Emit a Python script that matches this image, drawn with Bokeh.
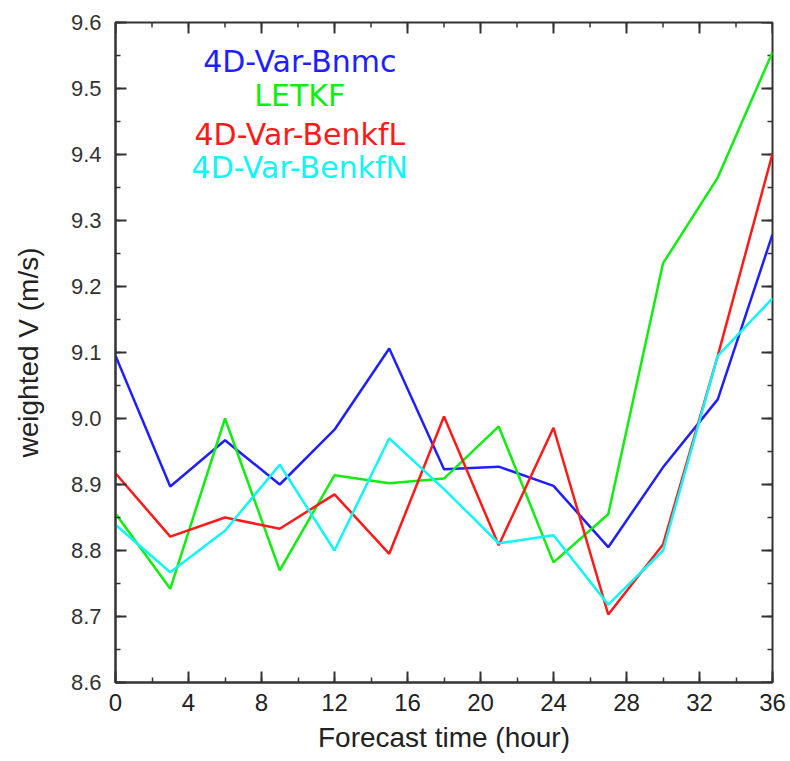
from bokeh.plotting import figure
from bokeh.models import Range1d, FixedTicker, NumeralTickFormatter, Label
from bokeh.embed import file_html
from bokeh.resources import INLINE

hours = [0, 3, 6, 9, 12, 15, 18, 21, 24, 27, 30, 33, 36]
bnmc = [9.095, 8.897, 8.967, 8.900, 8.983, 9.106, 8.923, 8.927, 8.898, 8.805, 8.926, 9.029, 9.279]
letkf = [8.856, 8.742, 9.000, 8.770, 8.914, 8.902, 8.909, 8.988, 8.782, 8.855, 9.235, 9.365, 9.555]
benkfl = [8.917, 8.821, 8.850, 8.833, 8.885, 8.795, 9.003, 8.808, 8.986, 8.703, 8.809, 9.095, 9.401]
benkfn = [8.839, 8.767, 8.830, 8.930, 8.800, 8.970, 8.893, 8.811, 8.823, 8.718, 8.800, 9.095, 9.182]

names = ["4D-Var-Bnmc", "LETKF", "4D-Var-BenkfL", "4D-Var-BenkfN"]
series = [bnmc, letkf, benkfl, benkfn]
colors = ["#1f1fff", "#10ee10", "#ff1a1a", "#10f5f5"]

x_major = [0, 4, 8, 12, 16, 20, 24, 28, 32, 36]
x_minor = list(range(0, 37, 2))
y_major = [8.6, 8.7, 8.8, 8.9, 9.0, 9.1, 9.2, 9.3, 9.4, 9.5, 9.6]
y_minor = [round(8.6 + 0.05 * i, 2) for i in range(21)]

X0, X1, Y0, Y1 = 0, 36, 8.6, 9.6
FRAME_W, FRAME_H = 657, 660

p = figure(width=790, height=761, output_backend="svg", toolbar_location=None,
           x_range=Range1d(X0, X1), y_range=Range1d(Y0, Y1),
           min_border_left=115, min_border_right=18, min_border_top=22, min_border_bottom=79,
           x_axis_label="Forecast time (hour)", y_axis_label="weighted V (m/s)")
p.grid.visible = False
p.outline_line_color = "#333333"
p.outline_line_width = 2

axis_color = "#333333"

def style_axis(ax, ticks, minor):
    ax.ticker = FixedTicker(ticks=ticks, minor_ticks=minor)
    ax.axis_line_color = axis_color
    ax.axis_line_width = 2
    ax.major_tick_line_color = axis_color
    ax.major_tick_line_width = 2
    ax.minor_tick_line_color = axis_color
    ax.minor_tick_line_width = 1.5
    ax.major_tick_in = 11
    ax.major_tick_out = 0
    ax.minor_tick_in = 5
    ax.minor_tick_out = 0

xa = p.xaxis[0]
style_axis(xa, x_major, x_minor)
xa.major_label_text_font = "Liberation Sans"
xa.major_label_text_font_size = "24px"
xa.major_label_text_color = "#222222"
xa.major_label_standoff = 11
xa.axis_label_text_font = "Liberation Sans"
xa.axis_label_text_font_style = "normal"
xa.axis_label_text_font_size = "28px"
xa.axis_label_text_color = "#222222"
xa.axis_label_standoff = 8

ya = p.yaxis[0]
style_axis(ya, y_major, y_minor)
ya.formatter = NumeralTickFormatter(format="0.0")
ya.major_label_text_font = "Liberation Sans"
ya.major_label_text_font_size = "22px"
ya.major_label_text_color = "#333333"
ya.major_label_standoff = 14
ya.axis_label_text_font = "Liberation Sans"
ya.axis_label_text_font_style = "normal"
ya.axis_label_text_font_size = "28px"
ya.axis_label_text_color = "#222222"
ya.axis_label_standoff = 24

# inward ticks on the top and right frame edges (mirroring bottom/left axes)
dy_major = 11 * (Y1 - Y0) / FRAME_H
dy_minor = 5 * (Y1 - Y0) / FRAME_H
dx_major = 11 * (X1 - X0) / FRAME_W
dx_minor = 5 * (X1 - X0) / FRAME_W
p.segment(x0=x_major, y0=[Y1] * len(x_major), x1=x_major, y1=[Y1 - dy_major] * len(x_major),
          line_color=axis_color, line_width=2)
p.segment(x0=x_minor, y0=[Y1] * len(x_minor), x1=x_minor, y1=[Y1 - dy_minor] * len(x_minor),
          line_color=axis_color, line_width=1.5)
p.segment(x0=[X1] * len(y_major), y0=y_major, x1=[X1 - dx_major] * len(y_major), y1=y_major,
          line_color=axis_color, line_width=2)
p.segment(x0=[X1] * len(y_minor), y0=y_minor, x1=[X1 - dx_minor] * len(y_minor), y1=y_minor,
          line_color=axis_color, line_width=1.5)

for vals, c in zip(series, colors):
    p.line(hours, vals, line_color=c, line_width=2.5)

legend_y = [9.541, 9.49, 9.431, 9.38]
for name, c, yy in zip(names, colors, legend_y):
    p.add_layout(Label(x=10.1, y=yy, text=name, text_color=c, text_align="center",
                       text_baseline="middle", text_font="DejaVu Sans",
                       text_font_size="30px"))

open("out.html", "w").write(file_html(p, INLINE))
